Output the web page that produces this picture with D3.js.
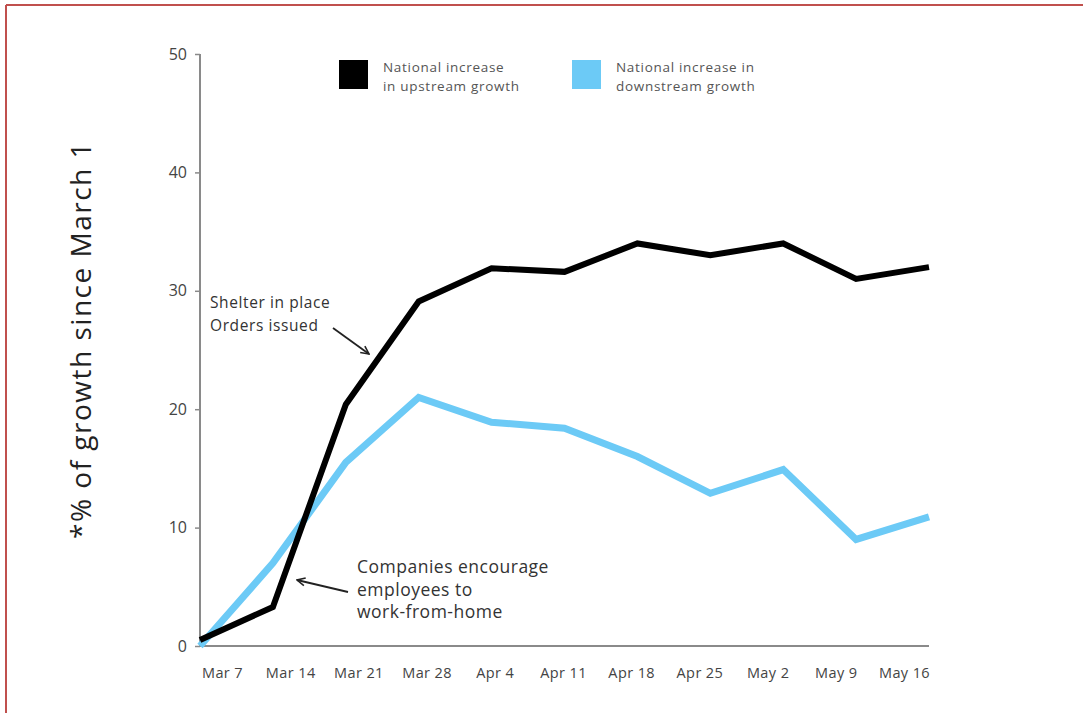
<!DOCTYPE html>
<html>
<head>
<meta charset="utf-8">
<script src="https://cdn.jsdelivr.net/npm/d3@7"></script>
<style>
  html, body { margin: 0; padding: 0; background: #fff; }
  svg { display: block; font-family: "Open Sans", Lato, sans-serif; }
</style>
</head>
<body>
<svg id="chart" width="1083" height="713"></svg>
<script>
// Weekly growth since March 1 (percent)
const weeks = ["Mar 7", "Mar 14", "Mar 21", "Mar 28", "Apr 4", "Apr 11",
               "Apr 18", "Apr 25", "May 2", "May 9", "May 16"];
const upstream   = [0.5, 3.3, 20.4, 29.1, 31.9, 31.6, 34.0, 33.0, 34.0, 31.0, 32.0];
const downstream = [0.0, 7.0, 15.5, 21.0, 18.9, 18.4, 16.0, 12.9, 14.9, 9.0, 10.9];
const yTicks = [0, 10, 20, 30, 40, 50];
const seriesNames = ["National increase\nin upstream growth", "National increase in\ndownstream growth"];

const FONT = "'Open Sans', Lato, sans-serif";
const svg = d3.select("#chart");

// frame lines
svg.append("line").attr("x1", 6).attr("x2", 1083).attr("y1", 5).attr("y2", 5)
  .attr("stroke", "#c0504d").attr("stroke-width", 2);
svg.append("line").attr("x1", 6).attr("x2", 6).attr("y1", 5).attr("y2", 713)
  .attr("stroke", "#c0504d").attr("stroke-width", 2);

const plotLeft = 200, plotRight = 929, plotTop = 54, plotBottom = 646;

const x = d3.scalePoint().domain(weeks).range([plotLeft, plotRight]);
const xLabel = d3.scalePoint().domain(weeks).range([plotLeft + 22, plotRight - 25]);
const y = d3.scaleLinear().domain([0, 50]).range([plotBottom, plotTop]);

// y axis
const yAxis = svg.append("g").attr("transform", `translate(${plotLeft},0)`)
  .call(d3.axisLeft(y).tickValues(yTicks).tickSize(5).tickPadding(8));
yAxis.select(".domain").attr("stroke", "#8a8a8a").attr("stroke-width", 2)
  .attr("d", `M0,${plotTop}V${plotBottom}`);
yAxis.selectAll(".tick line").attr("stroke", "#8a8a8a").attr("stroke-width", 1.5);
yAxis.selectAll(".tick text").attr("fill", "#444").attr("font-size", 16)
  .attr("font-family", FONT);

// x axis
svg.append("line").attr("x1", plotLeft).attr("x2", plotRight)
  .attr("y1", plotBottom).attr("y2", plotBottom)
  .attr("stroke", "#8a8a8a").attr("stroke-width", 2);
const xAxis = svg.append("g").attr("transform", `translate(0,${plotBottom})`)
  .call(d3.axisBottom(xLabel).tickSize(0).tickPadding(22));
xAxis.select(".domain").remove();
xAxis.selectAll(".tick text").attr("fill", "#444").attr("font-size", 14.5)
  .attr("letter-spacing", 0.4).attr("font-family", FONT);

// y axis title
svg.append("text")
  .attr("transform", "translate(91,340) rotate(-90)")
  .attr("text-anchor", "middle")
  .attr("fill", "#222").attr("font-size", 28).attr("letter-spacing", 1.5)
  .text("*% of growth since March 1");

// lines
const line = d3.line().x((d, i) => x(weeks[i])).y(d => y(d));
svg.append("path").datum(downstream).attr("d", line)
  .attr("fill", "none").attr("stroke", "#6ccaf6").attr("stroke-width", 7)
  .attr("stroke-linejoin", "miter");
svg.append("path").datum(upstream).attr("d", line)
  .attr("fill", "none").attr("stroke", "#000").attr("stroke-width", 6)
  .attr("stroke-linejoin", "miter");

// legend
const legendColors = ["#000", "#6ccaf6"];
const legendX = [339, 572];
seriesNames.forEach((name, i) => {
  const g = svg.append("g").attr("transform", `translate(${legendX[i]},60)`);
  g.append("rect").attr("width", 29).attr("height", 29).attr("fill", legendColors[i]);
  name.split("\n").forEach((t, j) => {
    g.append("text").attr("x", 44).attr("y", 12 + j * 19)
      .attr("fill", "#555").attr("font-size", 13.5).attr("letter-spacing", 0.7).text(t);
  });
});

// annotations
const defs = svg.append("defs");
defs.append("marker").attr("id", "arrow").attr("viewBox", "0 0 10 10")
  .attr("refX", 9).attr("refY", 5).attr("markerWidth", 10).attr("markerHeight", 10)
  .attr("markerUnits", "userSpaceOnUse").attr("orient", "auto")
  .append("path").attr("d", "M1,1L9,5L1,9").attr("fill", "none")
  .attr("stroke", "#222").attr("stroke-width", 1.6);

const notes = [
  { lines: ["Shelter in place", "Orders issued"], x: 210, y: 308, size: 15.5, spacing: 0.6,
    arrow: [333, 328, 369, 354] },
  { lines: ["Companies encourage", "employees to", "work-from-home"], x: 357, y: 573, size: 17.5,
    spacing: 0.5, arrow: [348, 592, 297, 580] }
];
notes.forEach(n => {
  n.lines.forEach((t, j) => {
    svg.append("text").attr("x", n.x).attr("y", n.y + j * 22.5)
      .attr("fill", "#333").attr("font-size", n.size).attr("letter-spacing", n.spacing).text(t);
  });
  svg.append("line")
    .attr("x1", n.arrow[0]).attr("y1", n.arrow[1])
    .attr("x2", n.arrow[2]).attr("y2", n.arrow[3])
    .attr("stroke", "#222").attr("stroke-width", 1.8)
    .attr("marker-end", "url(#arrow)");
});
</script>
</body>
</html>
